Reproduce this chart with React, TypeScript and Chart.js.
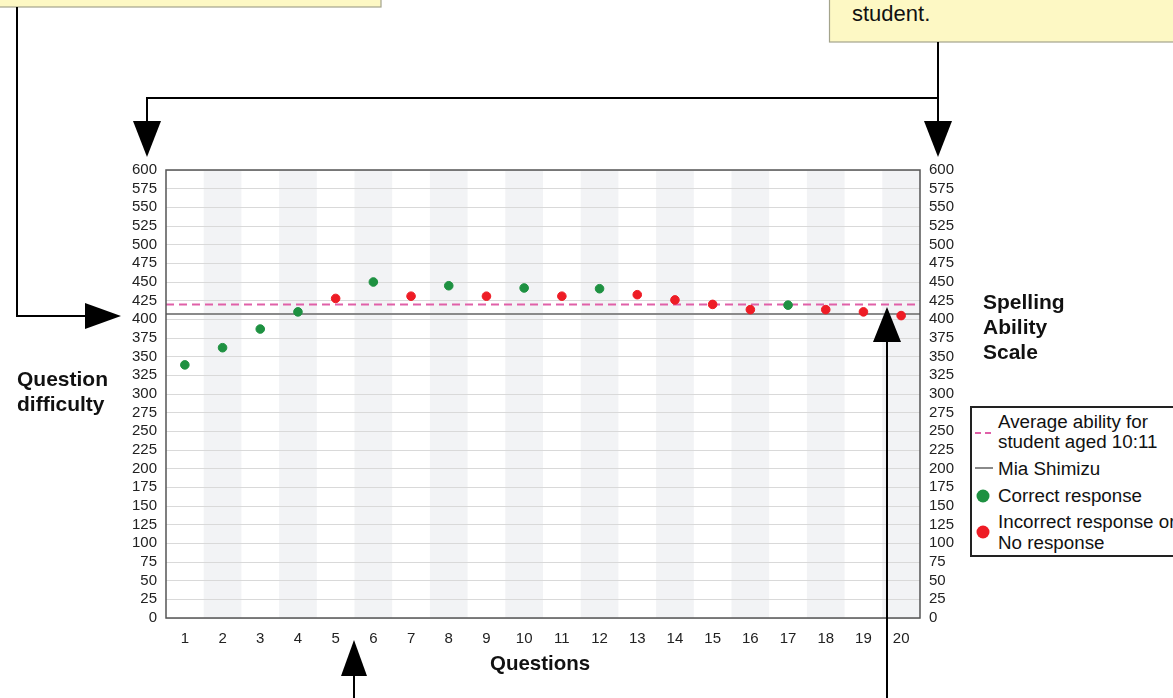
import React, { useEffect, useRef } from "react";
import { Chart, registerables } from "chart.js";

Chart.register(...registerables);

const QUESTIONS = [1, 2, 3, 4, 5, 6, 7, 8, 9, 10, 11, 12, 13, 14, 15, 16, 17, 18, 19, 20];
const DIFFICULTY = [339, 362, 387, 410, 428, 450, 431, 445, 431, 442, 431, 441, 433, 426, 420, 413, 419, 413, 410, 405];
const CORRECT = [true, true, true, true, false, true, false, true, false, true, false, true, false, false, false, false, true, false, false, false];
const AVERAGE_ABILITY = 420;
const STUDENT_ABILITY = 407;
const Y_MIN = 0;
const Y_MAX = 600;
const Y_STEP = 25;

const FONT = "'Liberation Sans', Arial, sans-serif";
const GREEN = "#1e9141";
const RED = "#ee1c25";
const PINK = "#e060a8";
const GRAY = "#8a8a8a";

const bandsPlugin = {
  id: "bands",
  beforeDraw(chart: any) {
    const { ctx, chartArea, scales } = chart;
    const x = scales.x;
    ctx.save();
    ctx.fillStyle = "#f2f3f5";
    QUESTIONS.forEach((q) => {
      if (q % 2 === 0) {
        const l = x.getPixelForValue(q - 0.5);
        const r = x.getPixelForValue(q + 0.5);
        ctx.fillRect(l, chartArea.top, r - l, chartArea.bottom - chartArea.top);
      }
    });
    ctx.restore();
  },
  afterDatasetsDraw(chart: any) {
    const { ctx, chartArea } = chart;
    ctx.save();
    ctx.strokeStyle = "#555";
    ctx.lineWidth = 1.5;
    ctx.strokeRect(chartArea.left, chartArea.top, chartArea.right - chartArea.left, chartArea.bottom - chartArea.top);
    ctx.restore();
  },
};

function ChartCanvas() {
  const ref = useRef<HTMLCanvasElement>(null);
  useEffect(() => {
    if (!ref.current) return;
    const lo = QUESTIONS[0] - 0.5;
    const hi = QUESTIONS[QUESTIONS.length - 1] + 0.5;
    const correctPts = QUESTIONS.map((q, i) => ({ x: q, y: DIFFICULTY[i] })).filter((_, i) => CORRECT[i]);
    const wrongPts = QUESTIONS.map((q, i) => ({ x: q, y: DIFFICULTY[i] })).filter((_, i) => !CORRECT[i]);
    const tickOpts = {
      font: { family: FONT, size: 15 },
      color: "#222",
      stepSize: Y_STEP,
      autoSkip: false,
      padding: 9,
    };
    const chart = new Chart(ref.current, {
      type: "scatter",
      data: {
        datasets: [
          {
            type: "line",
            label: "Mia Shimizu",
            data: [{ x: lo, y: STUDENT_ABILITY }, { x: hi, y: STUDENT_ABILITY }],
            borderColor: GRAY,
            borderWidth: 2,
            pointRadius: 0,
            order: 3,
          },
          {
            type: "line",
            label: "Average ability",
            data: [{ x: lo, y: AVERAGE_ABILITY }, { x: hi, y: AVERAGE_ABILITY }],
            borderColor: PINK,
            borderWidth: 2,
            borderDash: [8, 5],
            pointRadius: 0,
            order: 2,
          },
          {
            label: "Correct response",
            data: correctPts,
            backgroundColor: GREEN,
            borderColor: GREEN,
            pointRadius: 4.3,
            order: 1,
          },
          {
            label: "Incorrect response or No response",
            data: wrongPts,
            backgroundColor: RED,
            borderColor: RED,
            pointRadius: 4.3,
            order: 1,
          },
        ],
      } as any,
      options: {
        animation: false,
        responsive: false,
        maintainAspectRatio: false,
        layout: { padding: { left: 126, right: 213, top: 170, bottom: 50 } },
        plugins: { legend: { display: false }, tooltip: { enabled: false } },
        scales: {
          x: {
            type: "linear",
            min: lo,
            max: hi,
            grid: { display: false },
            border: { display: false },
            afterBuildTicks: (s: any) => {
              s.ticks = QUESTIONS.map((v) => ({ value: v }));
            },
            afterFit: (s: any) => {
              s.height = 30;
            },
            ticks: { font: { family: FONT, size: 15 }, color: "#222", padding: 4, maxRotation: 0, autoSkip: false },
          },
          y: {
            position: "left",
            min: Y_MIN,
            max: Y_MAX,
            grid: { color: "#d9d9d9", lineWidth: 1, drawTicks: false },
            border: { display: false },
            ticks: tickOpts,
            afterFit: (s: any) => {
              s.width = 40;
            },
          },
          y2: {
            position: "right",
            min: Y_MIN,
            max: Y_MAX,
            grid: { display: false, drawTicks: false },
            border: { display: false },
            ticks: tickOpts,
            afterFit: (s: any) => {
              s.width = 40;
            },
          },
        },
      } as any,
      plugins: [bandsPlugin],
    });
    return () => chart.destroy();
  }, []);
  return <canvas ref={ref} width={1173} height={698} style={{ position: "absolute", left: 0, top: 0, width: 1173, height: 698 }} />;
}

function Annotations() {
  const stroke = "#000";
  return (
    <svg width={1173} height={698} style={{ position: "absolute", left: 0, top: 0 }}>
      <rect x={-2} y={-10} width={383} height={17} fill="#fdf8c4" stroke="#a4a48c" strokeWidth={1.2} />
      <rect x={829.5} y={-10} width={360} height={52} fill="#fdf8c4" stroke="#a4a48c" strokeWidth={1.2} />
      <polyline points="17,7 17,316 88,316" fill="none" stroke={stroke} strokeWidth={2} />
      <polygon points="85,303 121,316 85,329" fill={stroke} />
      <polyline points="938,42 938,98 147,98 147,124" fill="none" stroke={stroke} strokeWidth={2} />
      <line x1={938} y1={98} x2={938} y2={124} stroke={stroke} strokeWidth={2} />
      <polygon points="133,121 161,121 147,157" fill={stroke} />
      <polygon points="924,121 952,121 938,157" fill={stroke} />
      <line x1={354} y1={672} x2={354} y2={698} stroke={stroke} strokeWidth={2} />
      <polygon points="341,676 367,676 354,640" fill={stroke} />
      <line x1={887} y1={338} x2={887} y2={698} stroke={stroke} strokeWidth={2} />
      <polygon points="873,342 901,342 887,307" fill={stroke} />
    </svg>
  );
}

export default function App() {
  const txt: React.CSSProperties = { position: "absolute", fontFamily: FONT, color: "#111", margin: 0, whiteSpace: "nowrap" };
  return (
    <div style={{ position: "fixed", left: 0, top: 0, width: 1173, height: 698, overflow: "hidden", background: "#fff" }}>
      <ChartCanvas />
      <Annotations />
      <div style={{ ...txt, left: 852, top: -1, fontSize: 22, lineHeight: "30px" }}>student.</div>
      <div style={{ ...txt, left: 17, top: 366, fontSize: 21, fontWeight: "bold", lineHeight: "25px" }}>
        Question
        <br />
        difficulty
      </div>
      <div style={{ ...txt, left: 983, top: 289, fontSize: 21, fontWeight: "bold", lineHeight: "25px" }}>
        Spelling
        <br />
        Ability
        <br />
        Scale
      </div>
      <div style={{ ...txt, left: 490, top: 652, fontSize: 20.5, fontWeight: "bold", lineHeight: "22px" }}>Questions</div>
      <div
        style={{
          position: "absolute",
          left: 970,
          top: 406,
          width: 220,
          height: 151,
          border: "2px solid #222",
          boxSizing: "border-box",
          background: "#fff",
        }}
      />
      <svg width={30} height={150} style={{ position: "absolute", left: 970, top: 406 }}>
        <line x1={5} y1={27} x2={23} y2={27} stroke={PINK} strokeWidth={2} strokeDasharray="6,4" />
        <line x1={5} y1={62} x2={23} y2={62} stroke={GRAY} strokeWidth={2} />
        <circle cx={13} cy={90} r={6.5} fill={GREEN} />
        <circle cx={13} cy={126} r={6.5} fill={RED} />
      </svg>
      <div style={{ ...txt, left: 998, top: 412, fontSize: 18.8, lineHeight: "20px" }}>
        Average ability for
        <br />
        student aged 10:11
      </div>
      <div style={{ ...txt, left: 998, top: 458, fontSize: 18.8, lineHeight: "21px" }}>Mia Shimizu</div>
      <div style={{ ...txt, left: 998, top: 485, fontSize: 18.8, lineHeight: "21px" }}>Correct response</div>
      <div style={{ ...txt, left: 998, top: 511, fontSize: 18.8, lineHeight: "21px" }}>
        Incorrect response or
        <br />
        No response
      </div>
    </div>
  );
}
